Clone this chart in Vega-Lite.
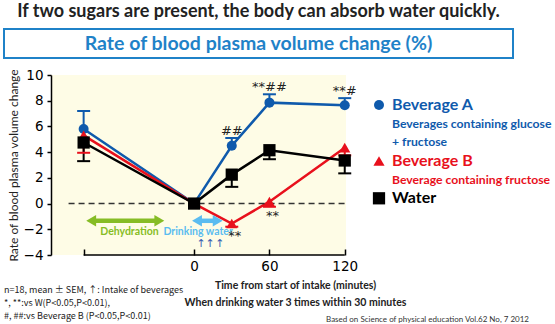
{
  "$schema": "https://vega.github.io/schema/vega-lite/v6.json",
  "padding": {"left": 3, "top": 2, "right": 0, "bottom": 0},
  "background": "white",
  "config": {
    "view": {"stroke": null},
    "font": "Lato",
    "axisY": {"tickCount": 8, "labelOverlap": false, "grid": false, "domainColor": "black", "domainWidth": 1.5, "tickColor": "black", "tickWidth": 1.5, "tickSize": 4, "labelFont": "DejaVu Sans", "labelFontSize": 13.5, "labelColor": "black", "labelPadding": 4, "titleFont": "Lato", "titleFontSize": 12, "titleFontWeight": "normal", "titleColor": "#222222", "titlePadding": 3},
    "axisX": {"labelOverlap": false, "grid": false, "domain": false, "tickSize": -6, "tickWidth": 1.5, "tickColor": "black", "labelFont": "DejaVu Sans", "labelFontSize": 13.5, "labelColor": "black", "labelPadding": 10, "titleFont": "Lato", "titleFontSize": 10.5, "titleFontWeight": "bold", "titleColor": "#222222", "titleLineHeight": 17, "titleX": 244, "titlePadding": 8}
  },
  "spacing": 9,
  "vconcat": [
    {
      "width": 509,
      "height": 29,
      "title": {"text": "If two sugars are present, the body can absorb water quickly.", "fontSize": 18, "fontWeight": "bold", "color": "#222222", "font": "Lato", "offset": 8, "anchor": "middle"},
      "view": {"stroke": "#1f82c8", "strokeWidth": 2, "fill": "white"},
      "data": {"values": [{"label": "Rate of blood plasma volume change (%)"}]},
      "mark": {"type": "text", "fontSize": 19.5, "fontWeight": "bold", "color": "#1f82c8", "font": "Lato", "baseline": "middle", "align": "center"},
      "encoding": {"text": {"field": "label"}}
    },
    {
      "bounds": "flush",
      "spacing": 27,
      "hconcat": [
        {
          "width": 20,
          "height": 180,
          "data": {"values": [{}]},
          "mark": {"type": "point", "opacity": 0},
          "encoding": {}
        },
        {
          "width": 295,
          "height": 180,
          "view": {"fill": "#fefce6", "stroke": null},
          "title": {"text": ["n=18, mean ± SEM, ↑: Intake of beverages", "*, **:vs W(P<0.05,P<0.01),", "#, ##:vs Beverage B (P<0.05,P<0.01)"], "orient": "bottom", "anchor": "start", "frame": "bounds", "fontSize": 9, "fontWeight": "normal", "font": "Noto Sans CJK JP", "color": "#222222", "lineHeight": 13, "offset": -22, "dx": -3},
          "resolve": {"scale": {"color": "independent"}},
          "data": {"values": [
            {"series": "Beverage A", "time": -88, "value": 5.8, "bar": 7.2, "sig": null},
            {"series": "Beverage A", "time": 0, "value": 0, "bar": null, "sig": null},
            {"series": "Beverage A", "time": 30, "value": 4.5, "bar": 5.1, "sig": "##"},
            {"series": "Beverage A", "time": 60, "value": 7.85, "bar": 8.5, "sig": "**##"},
            {"series": "Beverage A", "time": 120, "value": 7.65, "bar": 8.2, "sig": "**#"},
            {"series": "Beverage B", "time": -88, "value": 5.3, "bar": 3.95, "sig": null},
            {"series": "Beverage B", "time": 0, "value": 0, "bar": null, "sig": null},
            {"series": "Beverage B", "time": 30, "value": -1.55, "bar": -1.8, "sig": "**"},
            {"series": "Beverage B", "time": 60, "value": 0.15, "bar": -0.25, "sig": "**"},
            {"series": "Beverage B", "time": 120, "value": 4.35, "bar": 3.75, "sig": null},
            {"series": "Water", "time": -88, "value": 4.75, "bar": 3.3, "sig": null},
            {"series": "Water", "time": 0, "value": 0, "bar": null, "sig": null},
            {"series": "Water", "time": 30, "value": 2.25, "bar": 1.3, "sig": null},
            {"series": "Water", "time": 60, "value": 4.15, "bar": 3.45, "sig": null},
            {"series": "Water", "time": 120, "value": 3.35, "bar": 2.35, "sig": null},
            {"guide": "zero"},
            {"guide": "xaxis"},
            {"phase": "Dehydration", "start": -82, "end": -27.7, "label_x": -51.5},
            {"phase": "Drinking water", "start": 2.3, "end": 18.8, "label_x": 3.2},
            {"intake": 5.5},
            {"intake": 12.7},
            {"intake": 20.6}
          ]},
          "layer": [
            {
              "transform": [{"filter": "datum.series != null"}],
              "mark": {"type": "line", "strokeWidth": 2.5},
              "encoding": {
                "x": {
                  "field": "time", "type": "quantitative",
                  "scale": {"domain": [-114, 121], "nice": false, "zero": false},
                  "axis": {
                    "values": [-88, 0, 60, 120],
                    "labelExpr": "datum.value < -50 ? '' : datum.label",
                    "title": ["Time from start of intake (minutes)", "When drinking water 3 times within 30 minutes"]
                  }
                },
                "y": {
                  "field": "value", "type": "quantitative",
                  "scale": {"domain": [-4, 10], "nice": false, "zero": false},
                  "axis": {
                    "values": [-4, -2, 0, 2, 4, 6, 8, 10],
                    "title": "Rate of blood plasma volume change"
                  }
                },
                "color": {"field": "series", "type": "nominal", "scale": {"domain": ["Beverage A", "Beverage B", "Water"], "range": ["#0f5aac", "#e8101c", "#000000"]}, "legend": null}
              }
            },
            {
              "transform": [{"filter": "datum.guide == 'zero'"}],
              "mark": {"type": "rule", "color": "#333333", "strokeWidth": 1.5, "strokeDash": [6, 4]},
              "encoding": {"x": {"datum": -100, "type": "quantitative"}, "x2": {"datum": 121}, "y": {"datum": 0, "type": "quantitative"}}
            },
            {
              "transform": [{"filter": "datum.guide == 'xaxis'"}],
              "mark": {"type": "rule", "color": "black", "strokeWidth": 1.5},
              "encoding": {"x": {"datum": -88, "type": "quantitative"}, "x2": {"datum": 120}, "y": {"datum": -4, "type": "quantitative"}}
            },
            {
              "transform": [{"filter": "datum.phase != null"}],
              "mark": {"type": "rule", "strokeWidth": 4.5},
              "encoding": {
                "x": {"field": "start", "type": "quantitative"},
                "x2": {"field": "end"},
                "y": {"datum": -1.34, "type": "quantitative"},
                "color": {"field": "phase", "type": "nominal", "scale": {"domain": ["Dehydration", "Drinking water"], "range": ["#86bc25", "#5bbcf0"]}, "legend": null}
              }
            },
            {
              "transform": [{"filter": "datum.phase != null"}],
              "mark": {"type": "point", "shape": "triangle-left", "filled": true, "opacity": 1, "size": 130},
              "encoding": {
                "x": {"field": "start", "type": "quantitative"},
                "y": {"datum": -1.34, "type": "quantitative"},
                "color": {"field": "phase", "type": "nominal", "scale": {"domain": ["Dehydration", "Drinking water"], "range": ["#86bc25", "#5bbcf0"]}, "legend": null}
              }
            },
            {
              "transform": [{"filter": "datum.phase != null"}],
              "mark": {"type": "point", "shape": "triangle-right", "filled": true, "opacity": 1, "size": 130},
              "encoding": {
                "x": {"field": "end", "type": "quantitative"},
                "y": {"datum": -1.34, "type": "quantitative"},
                "color": {"field": "phase", "type": "nominal", "scale": {"domain": ["Dehydration", "Drinking water"], "range": ["#86bc25", "#5bbcf0"]}, "legend": null}
              }
            },
            {
              "transform": [{"filter": "datum.phase != null"}],
              "mark": {"type": "text", "fontSize": 10.5, "fontWeight": "bold", "font": "Lato", "baseline": "middle", "align": "center"},
              "encoding": {
                "x": {"field": "label_x", "type": "quantitative"},
                "y": {"datum": -2.22, "type": "quantitative"},
                "text": {"field": "phase"},
                "color": {"field": "phase", "type": "nominal", "scale": {"domain": ["Dehydration", "Drinking water"], "range": ["#86bc25", "#5bbcf0"]}, "legend": null}
              }
            },
            {
              "transform": [{"filter": "datum.intake != null"}],
              "mark": {"type": "text", "fontSize": 11, "font": "DejaVu Sans", "color": "#3a5fb0", "baseline": "middle", "align": "center"},
              "encoding": {"x": {"field": "intake", "type": "quantitative"}, "y": {"datum": -3.15, "type": "quantitative"}, "text": {"value": "↑"}}
            },
            {
              "transform": [{"filter": "datum.series != null && datum.bar != null"}],
              "mark": {"type": "rule", "strokeWidth": 2},
              "encoding": {
                "x": {"field": "time", "type": "quantitative"},
                "y": {"field": "value", "type": "quantitative"},
                "y2": {"field": "bar"},
                "color": {"field": "series", "type": "nominal", "scale": {"domain": ["Beverage A", "Beverage B", "Water"], "range": ["#0f5aac", "#e8101c", "#000000"]}, "legend": null}
              }
            },
            {
              "transform": [{"filter": "datum.series != null && datum.bar != null"}],
              "mark": {"type": "point", "shape": "stroke", "size": 169, "strokeWidth": 2, "filled": false, "opacity": 1},
              "encoding": {
                "x": {"field": "time", "type": "quantitative"},
                "y": {"field": "bar", "type": "quantitative"},
                "color": {"field": "series", "type": "nominal", "scale": {"domain": ["Beverage A", "Beverage B", "Water"], "range": ["#0f5aac", "#e8101c", "#000000"]}, "legend": null}
              }
            },
            {
              "transform": [{"filter": "datum.series != null"}],
              "mark": {"type": "point", "filled": true, "opacity": 1},
              "encoding": {
                "x": {"field": "time", "type": "quantitative"},
                "y": {"field": "value", "type": "quantitative"},
                "color": {"field": "series", "type": "nominal", "scale": {"domain": ["Beverage A", "Beverage B", "Water"], "range": ["#0f5aac", "#e8101c", "#000000"]}, "legend": null},
                "shape": {"field": "series", "type": "nominal", "scale": {"domain": ["Beverage A", "Beverage B", "Water"], "range": ["circle", "triangle-up", "square"]}, "legend": null},
                "size": {"field": "series", "type": "nominal", "scale": {"domain": ["Beverage A", "Beverage B", "Water"], "range": [100, 150, 110]}, "legend": null}
              }
            },
            {
              "transform": [{"filter": "datum.series == 'Beverage A' && datum.sig != null"}],
              "mark": {"type": "text", "font": "DejaVu Sans", "fontSize": 13, "color": "#222222", "baseline": "middle", "align": "center", "dy": -7},
              "encoding": {"x": {"field": "time", "type": "quantitative"}, "y": {"field": "bar", "type": "quantitative"}, "text": {"field": "sig"}}
            },
            {
              "transform": [{"filter": "datum.series == 'Beverage B' && datum.sig != null"}],
              "mark": {"type": "text", "font": "DejaVu Sans", "fontSize": 13, "color": "#222222", "baseline": "middle", "align": "center", "dy": 9, "dx": 3},
              "encoding": {"x": {"field": "time", "type": "quantitative"}, "y": {"field": "bar", "type": "quantitative"}, "text": {"field": "sig"}}
            }
          ]
        },
        {
          "width": 12,
          "height": 180,
          "title": {"text": "Based on Science of physical education Vol.62 No, 7 2012", "orient": "bottom", "anchor": "end", "frame": "group", "fontSize": 8, "fontWeight": "normal", "font": "Lato", "color": "#333333", "offset": 61, "dx": 144},
          "data": {"values": [
            {"series": "Beverage A", "text": "Beverage A", "kind": "name"},
            {"series": "Beverage A", "text": "Beverages containing glucose", "kind": "desc"},
            {"series": "Beverage A", "text": "+ fructose", "kind": "desc"},
            {"series": "Beverage B", "text": "Beverage B", "kind": "name"},
            {"series": "Beverage B", "text": "Beverage containing fructose", "kind": "desc"},
            {"series": "Water", "text": "Water", "kind": "name"}
          ]},
          "encoding": {
            "y": {"field": "text", "type": "nominal", "sort": null, "axis": null,
                  "scale": {"type": "point", "domain": ["Beverage A", "Beverages containing glucose", "+ fructose", "Beverage B", "Beverage containing fructose", "Water"], "range": [30, 123.3], "padding": 0}},
            "color": {"field": "series", "type": "nominal", "scale": {"domain": ["Beverage A", "Beverage B", "Water"], "range": ["#0f5aac", "#e8101c", "#000000"]}, "legend": null}
          },
          "layer": [
            {
              "transform": [{"filter": "datum.kind == 'name'"}],
              "mark": {"type": "point", "filled": true, "opacity": 1},
              "encoding": {
                "shape": {"field": "series", "type": "nominal", "scale": {"domain": ["Beverage A", "Beverage B", "Water"], "range": ["circle", "triangle-up", "square"]}, "legend": null},
                "size": {"field": "series", "type": "nominal", "scale": {"domain": ["Beverage A", "Beverage B", "Water"], "range": [120, 150, 130]}, "legend": null}
              }
            },
            {
              "transform": [{"filter": "datum.kind == 'name'"}],
              "mark": {"type": "text", "align": "left", "dx": 13, "fontSize": 16, "fontWeight": "bold", "font": "Lato", "baseline": "middle"},
              "encoding": {"text": {"field": "text"}}
            },
            {
              "transform": [{"filter": "datum.kind == 'desc'"}],
              "mark": {"type": "text", "align": "left", "dx": 13, "fontSize": 12.2, "fontWeight": "bold", "font": "Lato", "baseline": "middle"},
              "encoding": {"text": {"field": "text"}}
            }
          ]
        }
      ]
    }
  ]
}
